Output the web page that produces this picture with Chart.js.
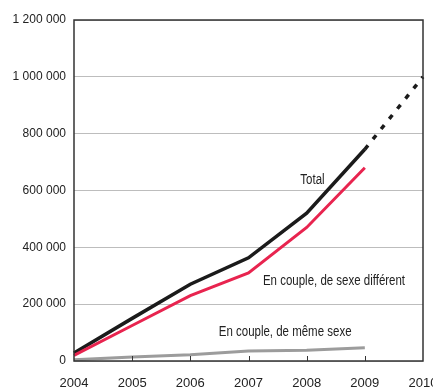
<!DOCTYPE html>
<html>
<head>
<meta charset="utf-8">
<script src="https://cdn.jsdelivr.net/npm/chart.js@4/dist/chart.umd.min.js"></script>
<style>
    html, body { margin: 0; padding: 0; background: #fff; }
    #wrap { width: 433px; height: 388px; }
</style>
</head>
<body>
<div id="wrap"><canvas id="myChart" width="433" height="388"></canvas></div>
<script>
// Years on the x axis
var years = ["2004", "2005", "2006", "2007", "2008", "2009", "2010"];

// Series values
var totalValues = [28000, 150000, 270000, 363000, 520000, 745000, null];
var projectionValues = [null, null, null, null, null, 745000, 1000000];
var diffSexValues = [20000, 125000, 230000, 310000, 470000, 680000, null];
var sameSexValues = [4000, 14000, 22000, 35000, 38000, 47000, null];

// y tick labels
var yTicks = [0, 200000, 400000, 600000, 800000, 1000000, 1200000];

// In-chart labels: text, year index, value
var noteTexts = ["Total", "En couple, de sexe différent", "En couple, de même sexe"];
var noteX = [4.1, 4.47, 3.63];
var noteY = [638000, 281000, 102000];

var sans = "'Liberation Sans', Arial, sans-serif";

function fmt(v) {
    return String(v).replace(/\B(?=(\d{3})+(?!\d))/g, " ");
}

// frame, inner tick marks and labels
var extras = {
    id: "extras",
    afterDatasetsDraw: function(chart) {
        var ctx = chart.ctx;
        var a = chart.chartArea;
        var xs = chart.scales.x, ys = chart.scales.y;
        ctx.save();
        ctx.strokeStyle = "#333";
        ctx.lineWidth = 1.5;
        ctx.strokeRect(a.left, a.top, a.right - a.left, a.bottom - a.top);
        ctx.lineWidth = 1;
        for (var i = 1; i < years.length - 1; i++) {
            var px = Math.round(xs.getPixelForValue(i)) + 0.5;
            ctx.beginPath();
            ctx.moveTo(px, a.bottom);
            ctx.lineTo(px, a.bottom - 5);
            ctx.stroke();
        }
        ctx.fillStyle = "#222";
        ctx.font = "14px " + sans;
        ctx.textAlign = "center";
        ctx.textBaseline = "middle";
        for (var j = 0; j < noteTexts.length; j++) {
            // condensed look: squeeze the text horizontally
            ctx.save();
            ctx.translate(xs.getPixelForValue(noteX[j]), ys.getPixelForValue(noteY[j]));
            ctx.scale(0.82, 1);
            ctx.fillText(noteTexts[j], 0, 0);
            ctx.restore();
        }
        ctx.restore();
    }
};

var ctx = document.getElementById("myChart").getContext("2d");
var chart = new Chart(ctx, {
    type: "line",
    data: {
        labels: years,
        datasets: [
            {
                label: "En couple, de même sexe",
                data: sameSexValues,
                borderColor: "#9c9c9c",
                borderWidth: 3,
                pointRadius: 0,
                tension: 0
            },
            {
                label: "En couple, de sexe différent",
                data: diffSexValues,
                borderColor: "#e8244f",
                borderWidth: 3,
                pointRadius: 0,
                tension: 0
            },
            {
                label: "Total",
                data: totalValues,
                borderColor: "#1b1b1b",
                borderWidth: 3.5,
                pointRadius: 0,
                tension: 0
            },
            {
                label: "Projection",
                data: projectionValues,
                borderColor: "#1b1b1b",
                borderWidth: 3.5,
                borderDash: [5, 8],
                pointRadius: 0,
                tension: 0
            }
        ]
    },
    options: {
        responsive: false,
        animation: false,
        layout: { padding: { top: 20, right: 10, left: 0, bottom: 0 } },
        plugins: {
            legend: { display: false },
            tooltip: { enabled: false }
        },
        scales: {
            x: {
                grid: { display: false },
                border: { display: false },
                ticks: {
                    color: "#222",
                    font: { family: sans, size: 13 },
                    maxRotation: 0,
                    autoSkip: false,
                    padding: 7
                },
                afterFit: function(s) {
                    s.height = 27;
                    s.paddingLeft = 0;
                    s.paddingRight = 0;
                }
            },
            y: {
                min: 0,
                max: 1200000,
                afterBuildTicks: function(s) {
                    s.ticks = yTicks.map(function(v) { return { value: v }; });
                },
                grid: { color: "#bdbdbd", lineWidth: 1, drawTicks: false },
                border: { display: false },
                ticks: {
                    color: "#222",
                    font: { family: sans, size: 12 },
                    padding: 8,
                    callback: function(v) { return fmt(v); }
                },
                afterFit: function(s) {
                    s.width = 74;
                    s.paddingTop = 0;
                    s.paddingBottom = 0;
                }
            }
        }
    },
    plugins: [extras]
});
</script>
</body>
</html>
